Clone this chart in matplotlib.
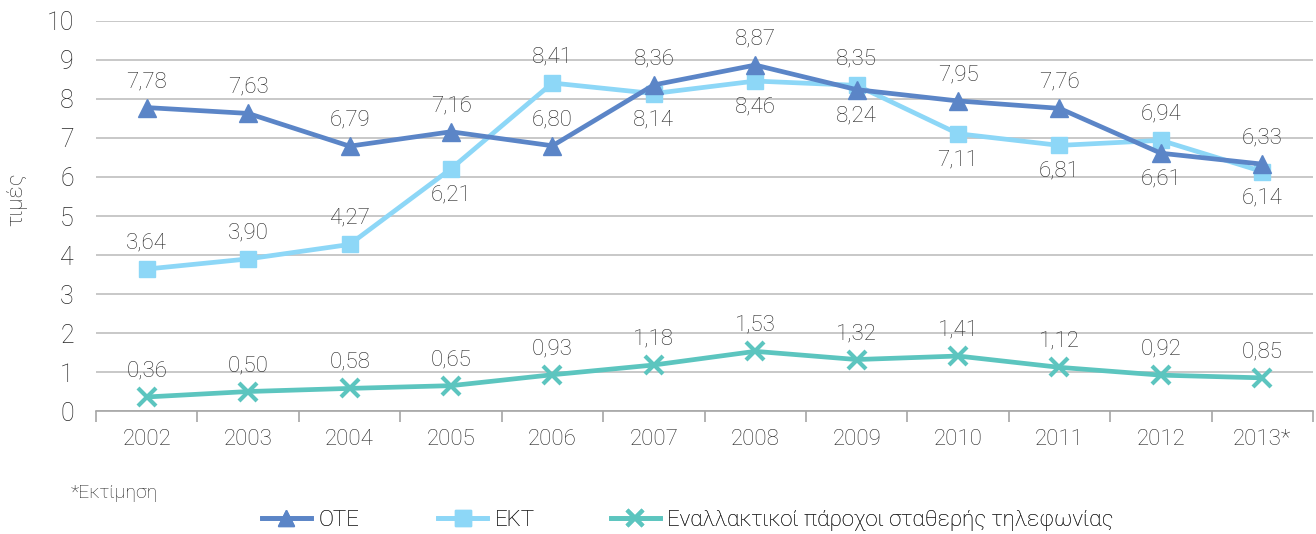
import matplotlib as mpl
mpl.use('Agg')
from matplotlib import pyplot as plt

years = ['2002', '2003', '2004', '2005', '2006', '2007', '2008', '2009', '2010', '2011', '2012', '2013*']
ote = [7.78, 7.63, 6.79, 7.16, 6.80, 8.36, 8.87, 8.24, 7.95, 7.76, 6.61, 6.33]
ekt = [3.64, 3.90, 4.27, 6.21, 8.41, 8.14, 8.46, 8.35, 7.11, 6.81, 6.94, 6.14]
alt = [0.36, 0.50, 0.58, 0.65, 0.93, 1.18, 1.53, 1.32, 1.41, 1.12, 0.92, 0.85]

# label side for each point: +1 above, -1 below
ote_side = [1, 1, 1, 1, 1, 1, 1, -1, 1, 1, -1, 1]
ekt_side = [1, 1, 1, -1, 1, -1, -1, 1, -1, -1, 1, -1]
alt_side = [1] * 12

names = ['ΟΤΕ', 'ΕΚΤ', 'Εναλλακτικοί πάροχοι σταθερής τηλεφωνίας']
colors = ['#5B85C7', '#8DD7F7', '#5CC5BF']

plt.rcParams['font.family'] = ['Roboto', 'DejaVu Sans']
plt.rcParams['font.weight'] = 'light'
text_color = '#262626'

fig = plt.figure(figsize=(13.16, 5.34), dpi=100)
ax = fig.add_axes([0.073, 0.2303, 0.9247, 0.7304])

x = list(range(len(years)))
ax.plot(x, alt, color=colors[2], lw=3.4, marker='x', ms=13, mew=3, zorder=3)
ax.plot(x, ekt, color=colors[1], lw=3.4, marker='s', ms=12, zorder=4)
ax.plot(x, ote, color=colors[0], lw=3.4, marker='^', ms=13, zorder=5)

for series, sides in [(ote, ote_side), (ekt, ekt_side), (alt, alt_side)]:
    for i, (v, s) in enumerate(zip(series, sides)):
        ax.annotate(f'{v:.2f}'.replace('.', ','), (i, v), xytext=(0, 26 * s),
                    textcoords='offset pixels', ha='center', va='center',
                    fontsize=16, color=text_color, zorder=6)

ax.set_xlim(-0.5, len(years) - 0.5)
ax.set_ylim(0, 10)
ax.set_yticks(range(0, 11))
ax.set_xticks([i - 0.5 for i in range(len(years) + 1)])
ax.set_xticklabels([])
ax.set_xticks(x, minor=True)
ax.set_xticklabels(years, minor=True)
ax.tick_params(axis='x', which='major', length=8, color='#A6A6A6', width=1.2)
ax.tick_params(axis='x', which='minor', length=0, pad=13, labelsize=16, labelcolor=text_color)
ax.tick_params(axis='y', length=0, pad=16, labelsize=18, labelcolor=text_color)
ax.grid(axis='y', color='#BFBFBF', lw=1.2)
ax.set_axisbelow(True)
for side in ['top', 'right', 'left']:
    ax.spines[side].set_visible(False)
ax.spines['bottom'].set_color('#A6A6A6')
ax.spines['bottom'].set_linewidth(1.2)

fig.text(0.013, 0.627, 'τιμές', rotation=90, fontsize=16, color=text_color, ha='center', va='center')
fig.text(0.054, 0.077, '*Εκτίμηση', fontsize=14, color=text_color, ha='left', va='center')

handles = [
    plt.Line2D([], [], color=colors[0], lw=3.4, marker='^', ms=11),
    plt.Line2D([], [], color=colors[1], lw=3.4, marker='s', ms=11),
    plt.Line2D([], [], color=colors[2], lw=3.4, marker='x', ms=11, mew=3),
]
legend_x = [0.199, 0.333, 0.464]
for h, n, lx in zip(handles, names, legend_x):
    leg = fig.legend([h], [n], loc='center left', bbox_to_anchor=(lx, 0.026),
                     frameon=False, fontsize=16, handlelength=2.2, handletextpad=0.35,
                     borderpad=0, borderaxespad=0)
    for t in leg.get_texts():
        t.set_color(text_color)
    fig.add_artist(leg)

fig.savefig('out.png', dpi=100)
